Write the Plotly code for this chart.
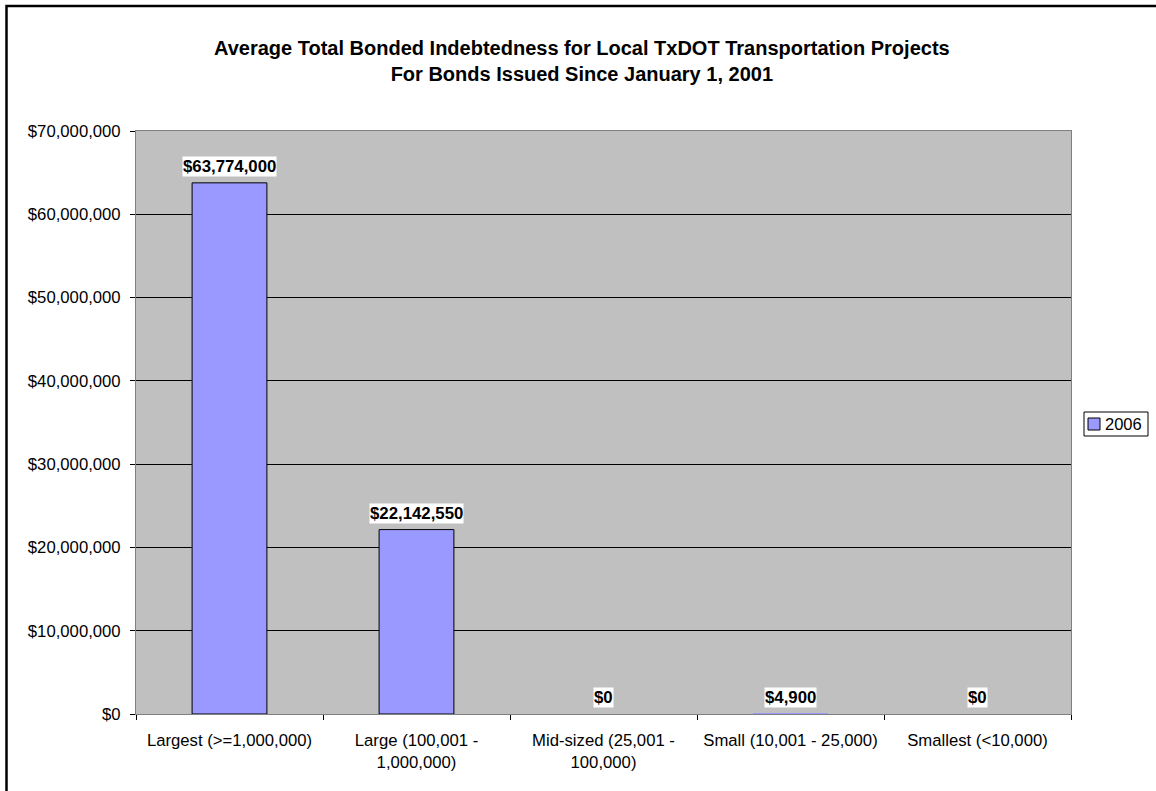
import plotly.graph_objects as go

# Data
categories = [
    'Largest (>=1,000,000)',
    'Large (100,001 -<br>1,000,000)',
    'Mid-sized (25,001 -<br>100,000)',
    'Small (10,001 - 25,000)',
    'Smallest (<10,000)',
]
series_name = '2006'
values = [63774000, 22142550, 0, 4900, 0]
title_lines = [
    'Average Total Bonded Indebtedness for Local TxDOT Transportation Projects',
    'For Bonds Issued Since January 1, 2001',
]

W, H = 1156, 791
L, R, T, B = 136, 1156 - 1071, 131, 791 - 714
pw, ph = W - L - R, H - T - B
FONT = 'Liberation Sans, Arial'
BAR_COLOR = '#9999FF'


def px_x(px):
    return (px - L) / pw


def px_y(py):
    return (H - B - py) / ph


fig = go.Figure(go.Bar(
    x=categories,
    y=values,
    name=series_name,
    width=0.4,
    showlegend=False,
    marker=dict(color=BAR_COLOR,
                line=dict(color='black', width=[1 if v > 100000 else 0 for v in values])),
))

# value labels on white boxes
for c, v in zip(categories, values):
    fig.add_annotation(
        x=c, y=v, xref='x', yref='y',
        text='<b>${:,.0f}</b>'.format(v),
        showarrow=False, yanchor='bottom', yshift=6,
        bgcolor='white', borderpad=0,
        font=dict(family=FONT, size=16.8, color='black'),
    )

# two-line title
fig.add_annotation(
    x=px_x(582), y=px_y(61), xref='paper', yref='paper',
    text='<b>' + '<br>'.join(title_lines) + '</b>', showarrow=False,
    xanchor='center', yanchor='middle',
    font=dict(family=FONT, size=20, color='black'),
)

# outer chart border
fig.add_shape(
    type='rect', xref='paper', yref='paper',
    x0=px_x(6.5), x1=px_x(W + 10),
    y0=px_y(H + 10), y1=px_y(6),
    line=dict(color='black', width=2.5), fillcolor='rgba(0,0,0,0)', layer='below',
)

# legend box (drawn by hand so it fits the right margin)
fig.add_shape(type='rect', xref='paper', yref='paper',
              x0=px_x(1084), x1=px_x(1148), y0=px_y(436), y1=px_y(412),
              line=dict(color='black', width=1), fillcolor='white')
fig.add_shape(type='rect', xref='paper', yref='paper',
              x0=px_x(1088), x1=px_x(1100), y0=px_y(430), y1=px_y(418),
              line=dict(color='black', width=1), fillcolor=BAR_COLOR)
fig.add_annotation(x=px_x(1103), y=px_y(424), xref='paper', yref='paper',
                   text=series_name, showarrow=False, xanchor='left', yanchor='middle',
                   font=dict(family=FONT, size=16.5, color='black'))

fig.update_layout(
    width=W, height=H,
    margin=dict(l=L, r=R, t=T, b=B, autoexpand=False),
    paper_bgcolor='white',
    plot_bgcolor='#C0C0C0',
    font=dict(family=FONT, size=16.7, color='black'),
    showlegend=False,
)

fig.update_xaxes(
    showline=True, linecolor='#808080', mirror=True,
    ticks='outside', tickson='boundaries', ticklen=5, tickcolor='black',
    ticklabelstandoff=11, tickangle=0, automargin=False,
    showgrid=False,
)
fig.update_yaxes(
    range=[0, 70000000], dtick=10000000, tickformat='$,.0f',
    showline=True, linecolor='#808080', mirror=True,
    ticks='outside', ticklen=5, tickcolor='black',
    ticklabelstandoff=6, automargin=False,
    showgrid=True, gridcolor='black', gridwidth=1,
    zeroline=True, zerolinecolor='black', zerolinewidth=1,
)

fig.write_html('out.html', config={'displayModeBar': False},
               post_script="document.body.style.margin='0';")
